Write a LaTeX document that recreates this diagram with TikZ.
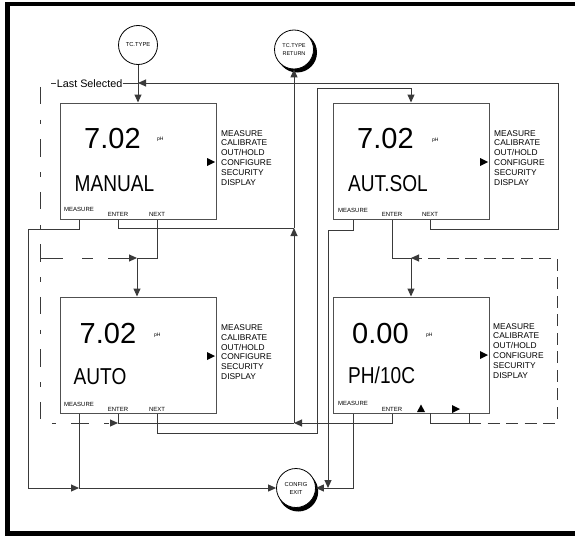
\documentclass[tikz,border=0pt]{standalone}
\usepackage{fontspec}
\usepackage{graphicx}
\setmainfont{Liberation Sans}
\usetikzlibrary{arrows.meta}
\definecolor{wirec}{HTML}{3A3A3A}
\definecolor{boxc}{HTML}{505050}
\newcommand\narrowtxt[1]{\scalebox{0.83}[1]{#1}}
\begin{document}
\begin{tikzpicture}[x=1pt,y=-1pt,
  box/.style={draw=boxc, line width=1pt, minimum width=156pt, minimum height=116.5pt, inner sep=0pt, anchor=north west},
  wire/.style={draw=wirec, line width=1pt},
  tip/.style={-{Triangle[length=8pt,width=7pt]}},
  dashL/.style={wire, dash pattern=on 4.5pt off 15pt on 17.5pt off 15.5pt},
  dashM/.style={wire, dash pattern=on 23pt off 19pt on 11pt off 15pt},
  dashR/.style={wire, dash pattern=on 12pt off 6.5pt},
  big/.style={font=\fontsize{29}{29}\selectfont, inner sep=0pt, anchor=base west},
  mode/.style={font=\fontsize{23}{23}\selectfont, inner sep=0pt, anchor=base west},
  phlab/.style={font=\fontsize{5}{5}\selectfont, inner sep=0pt, anchor=base west},
  menu/.style={font=\fontsize{8.4}{9.8}\selectfont, inner sep=0pt, anchor=north west, align=left},
  key/.style={font=\fontsize{6}{6}\selectfont, inner sep=0pt, anchor=base},
  circ/.style={draw=black, fill=white, circle, minimum size=39pt, inner sep=0pt, line width=0.8pt, align=center, font=\fontsize{5.8}{8}\selectfont},
  shade/.style={fill=black},
  keyglyph/.style={fill=black}
]
\useasboundingbox (0,0) rectangle (575,535);
\clip (0,0) rectangle (575,535);
\draw[line width=4.5pt] (7.25,4.25) rectangle (600,533.3);

% circle shadows
\fill[shade] (297,52.5) circle (20);
\fill[shade] (298.2,491.5) circle (20);
% circles
\node[circ] (tctype) at (138,45) {TC.TYPE};
\node[circ, font=\fontsize{5.5}{7.5}\selectfont] (tcret) at (294,49.5) {TC.TYPE\\RETURN};
\node[circ] (exit) at (296,488) {CONFIG\\EXIT};

% boxes
\node[box] (manual) at (60,102.5) {};
\node[box] (autsol) at (333,102.5) {};
\node[box] (auto) at (60,296.5) {};
\node[box] (phten) at (333,296.5) {};

% MANUAL contents
\node[big] (m702) at (84,148) {7.02};
\node[phlab] (mph) at (157,140.5) {pH};
\node[mode] (mmode) at (74.5,191) {\narrowtxt{MANUAL}};
\node[menu] (mmenu) at (221,130) {MEASURE\\CALIBRATE\\OUT/HOLD\\CONFIGURE\\SECURITY\\DISPLAY};
\node[key] (mmeas) at (79,211.5) {MEASURE};
\node[key] (ment) at (118,216.5) {ENTER};
\node[key] (mnext) at (157,216) {NEXT};
\fill[keyglyph] (207,158) -- (215,162) -- (207,166) -- cycle;

% AUT.SOL contents
\node[big] (s702) at (357,148) {7.02};
\node[phlab] (sph) at (432,141) {pH};
\node[mode] (smode) at (348,191) {\narrowtxt{AUT.SOL}};
\node[menu] (smenu) at (494,130) {MEASURE\\CALIBRATE\\OUT/HOLD\\CONFIGURE\\SECURITY\\DISPLAY};
\node[key] (smeas) at (353,212) {MEASURE};
\node[key] (sent) at (392,216.5) {ENTER};
\node[key] (snext) at (430,216) {NEXT};
\fill[keyglyph] (480,158) -- (488,162) -- (480,166) -- cycle;

% AUTO contents
\node[big] (a702) at (79.5,343) {7.02};
\node[phlab] (aph) at (154,336.5) {pH};
\node[mode] (amode) at (73.5,384) {\narrowtxt{AUTO}};
\node[menu] (amenu) at (221,324.5) {MEASURE\\CALIBRATE\\OUT/HOLD\\CONFIGURE\\SECURITY\\DISPLAY};
\node[key] (ameas) at (79,406.5) {MEASURE};
\node[key] (aent) at (118,411) {ENTER};
\node[key] (anext) at (157,411) {NEXT};
\fill[keyglyph] (207,352) -- (215,356) -- (207,360) -- cycle;

% PH/10C contents
\node[big] (p000) at (352,343) {0.00};
\node[phlab] (pph) at (426,336.5) {pH};
\node[mode] (pmode) at (348,383.5) {\narrowtxt{PH/10C}};
\node[menu] (pmenu) at (493,323) {MEASURE\\CALIBRATE\\OUT/HOLD\\CONFIGURE\\SECURITY\\DISPLAY};
\node[key] (pmeas) at (353,405) {MEASURE};
\node[key] (pent) at (392,411) {ENTER};
\fill[keyglyph] (480,351) -- (488,355) -- (480,359) -- cycle;
\fill[keyglyph] (417,412) -- (421,404.5) -- (425,412) -- cycle;
\fill[keyglyph] (452,405) -- (460,409) -- (452,413) -- cycle;

% Last selected
\node[font=\fontsize{10.8}{10.8}\selectfont, inner sep=0pt, anchor=base east] (lastsel) at (122.5,87) {Last Selected};

% junction coordinates
\coordinate (tcj) at (138,83);
\coordinate (rj) at (294,228);
\coordinate (ej) at (294,423);
\coordinate (mj) at (137,258);
\coordinate (sj) at (411,258);
\coordinate (lowline) at (0,423);
\coordinate (exline) at (0,488);
\coordinate (pu) at (430,413);
\coordinate (pr) at (469,413);

% TC.TYPE -> MANUAL
\draw[wire] (tctype) -- (tcj);
\draw[wire, tip] (tcj) -- (tcj |- manual.north);
\draw[wire] (lastsel.east |- tcj) -- (tcj);
% AUT.SOL NEXT loop back
\draw[wire, tip] (snext |- autsol.south) -- ++(0,9) -| (558,83) -- (tcj);
% last selected dashed
\draw[dashL, tip] ([xshift=-1pt]lastsel.west |- tcj) -| (40,423) -- (aent |- lowline);
% MANUAL ENTER -> return
\draw[wire] (ment |- manual.south) -- (ment |- rj) -- (rj);
\draw[wire, tip] (ej) -- (rj);
\draw[wire, tip] (rj) -- (tcret);
% bottom enter line
\draw[wire, tip] (pent |- phten.south) -- (pent |- ej) -- (ej);
\draw[wire] (aent |- auto.south) -- (aent |- ej) -- (ej);
% AUTO NEXT -> AUT.SOL
\draw[wire, tip] (anext |- auto.south) -- ++(0,19) -| (317,88) -| (411,0 |- autsol.north);
% AUT.SOL MEASURE -> exit
\draw[wire, tip] (smeas |- autsol.south) -- ++(0,10) -| (328,488);
% PH/10C MEASURE -> exit
\draw[wire, tip] (pmeas |- phten.south) |- (exit);
% MANUAL MEASURE
\draw[wire, tip] (mmeas |- manual.south) -- ++(0,9) -| (28,488) -- (ameas |- exline);
% AUTO MEASURE -> exit
\draw[wire, tip] (ameas |- auto.south) |- (exit);
% MANUAL NEXT -> AUTO
\draw[wire] (mnext |- manual.south) |- (mj);
\draw[wire, tip] (mj) -- (mj |- auto.north);
\draw[dashM, tip] (40,258) -- (mj);
% AUT.SOL ENTER -> PH/10C
\draw[wire] (sent |- autsol.south) |- (sj);
\draw[wire, tip] (sj) -- (sj |- phten.north);
% PH/10C arrow keys loop
\draw[wire] (pu) -- (pu |- lowline) -- (pr |- lowline) -- (pr);
\draw[dashR, tip] (pr |- lowline) -- (557,423) -- (557,258) -- (sj);
\end{tikzpicture}
\end{document}
